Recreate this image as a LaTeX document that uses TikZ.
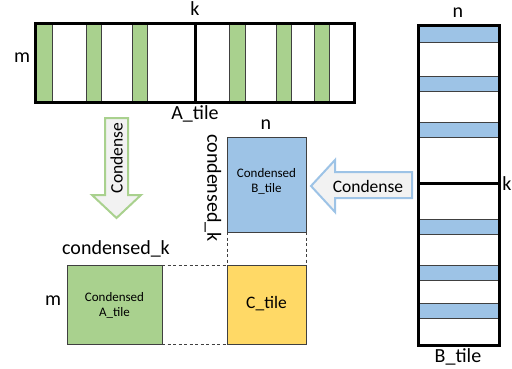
\documentclass[tikz,border=0pt]{standalone}
\usepackage{fontspec}
\setmainfont{Carlito}
\definecolor{agreen}{HTML}{A9D18E}
\definecolor{bblue}{HTML}{9DC3E6}
\definecolor{cyell}{HTML}{FFD966}
\definecolor{arrfill}{HTML}{F2F2F2}
\definecolor{thin}{HTML}{404040}
\begin{document}
\begin{tikzpicture}[x=1pt,y=-1pt,
  lbl/.style={inner sep=0pt,font=\fontsize{20}{20}\selectfont},
  mid/.style={inner sep=0pt,font=\fontsize{17.5}{17.5}\selectfont},
  small/.style={inner sep=0pt,align=center,font=\fontsize{13}{15}\selectfont},
  outer/.style={draw=black,line width=3pt},
  cell/.style={draw=thin,line width=0.8pt},
  box/.style={draw=thin,line width=1pt},
  dbox/.style={draw=thin,line width=1pt,dashed,dash pattern=on 3pt off 2.5pt},
  arr/.style={fill=arrfill,line width=2pt,line join=miter}]
\useasboundingbox (0,0) rectangle (512,368);
% A tile
\foreach \a/\b in {35/52,86/101,132/147,229/245,276/291,314/329}
  \fill[agreen] (\a,23) rectangle (\b,102);
\foreach \xx in {52,86,101,132,147,229,245,276,291,314,329}
  \draw[cell] (\xx,23) -- (\xx,102);
\draw[outer] (35,23) rectangle (354,102);
\draw[outer] (195,23) -- (195,102);
\node[lbl] (ak) at (195,9) {k};
\node[lbl] (am) at (22,58) {m};
\node[lbl] (al) at (195,114) {A\_tile};
% B tile
\foreach \a/\b in {25/42,76/91,122/137,219/234,265/280,303/318}
  \fill[bblue] (418,\a) rectangle (499,\b);
\foreach \yy in {42,76,91,122,137,219,234,265,280,303,318}
  \draw[cell] (418,\yy) -- (499,\yy);
\draw[outer] (418,25) rectangle (499,345);
\draw[outer] (418,183) -- (499,183);
\node[lbl] (bn) at (458,13) {n};
\node[lbl] (bk) at (507,184) {k};
\node[lbl] (bl) at (458,357) {B\_tile};
% arrows
\draw[arr,draw=agreen] (105,118) -- (128,118) -- (128,195) -- (141,195) -- (116.5,218) -- (92,195) -- (105,195) -- cycle;
\node[mid,rotate=90] (c1) at (116.5,158) {Condense};
\draw[arr,draw=bblue] (412,172) -- (335,172) -- (335,160) -- (311,186) -- (335,212) -- (335,198) -- (412,198) -- cycle;
\node[mid] (c2) at (368,186) {Condense};
% condensed B
\draw[box,fill=bblue] (227,137) rectangle (306,232);
\node[small] (cb) at (266.5,181) {Condensed\\B\_tile};
\node[lbl] (cbn) at (266,125) {n};
\node[lbl,rotate=-90] (cbk) at (213,188) {condensed\_k};
\draw[dbox] (227,232) -- (227,265);
\draw[dbox] (306,232) -- (306,265);
% bottom
\draw[dbox] (162,265) -- (227,265);
\draw[dbox] (162,344) -- (227,344);
\draw[box,fill=agreen] (67,265) rectangle (162,344);
\node[small] (ca) at (114.5,305) {Condensed\\A\_tile};
\node[lbl] (cak) at (116,249) {condensed\_k};
\node[lbl] (cam) at (53,301) {m};
\draw[box,fill=cyell] (227,265) rectangle (306,344);
\node[mid] (ct) at (266.5,304) {C\_tile};
\end{tikzpicture}
\end{document}
